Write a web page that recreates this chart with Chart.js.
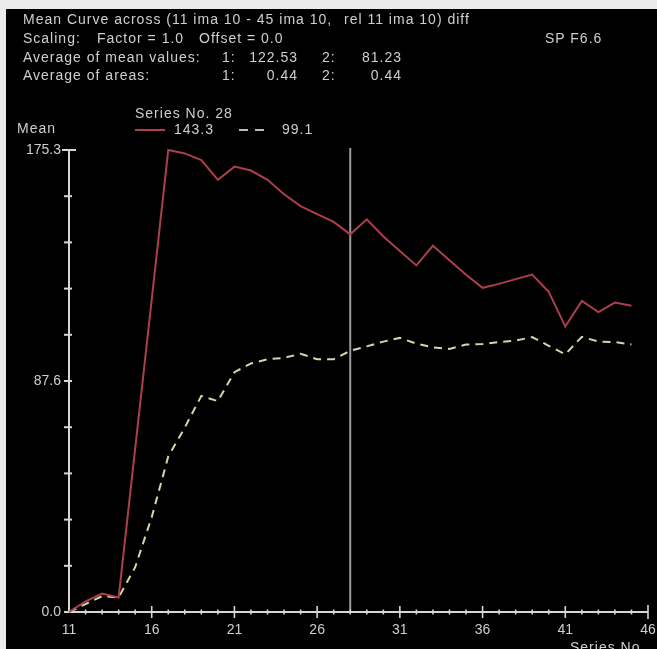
<!DOCTYPE html>
<html><head><meta charset="utf-8">
<script src="https://cdn.jsdelivr.net/npm/chart.js@4"></script>
<style>
html,body{margin:0;padding:0;background:#e9ebea;width:657px;height:649px;overflow:hidden;}
#panel{position:absolute;left:6px;top:9px;width:651px;height:640px;background:#000;overflow:hidden;}
#c{position:absolute;left:0;top:0;}
.t{position:absolute;font-family:"Liberation Sans",Arial,sans-serif;font-size:14px;letter-spacing:1px;color:#cfcfcf;white-space:pre;line-height:16px;}
.r{text-align:right;}
.seg{position:absolute;height:0;}
</style></head>
<body>
<div id="panel">
  <canvas id="c" width="651" height="640"></canvas>
  <div class="t" style="left:17px;top:2px">Mean Curve across (11 ima 10 - 45 ima 10,</div>
  <div class="t" style="left:338px;top:2px">rel 11 ima 10) diff</div>
  <div class="t" style="left:17px;top:21px">Scaling:</div>
  <div class="t" style="left:91px;top:21px">Factor = 1.0</div>
  <div class="t" style="left:193px;top:21px">Offset = 0.0</div>
  <div class="t" style="left:539px;top:21px">SP F6.6</div>
  <div class="t" style="left:17px;top:40px">Average of mean values:</div>
  <div class="t" style="left:216px;top:40px">1:</div>
  <div class="t r" style="left:230px;top:40px;width:62px">122.53</div>
  <div class="t" style="left:316px;top:40px">2:</div>
  <div class="t r" style="left:334px;top:40px;width:62px">81.23</div>
  <div class="t" style="left:17px;top:58px">Average of areas:</div>
  <div class="t" style="left:216px;top:58px">1:</div>
  <div class="t r" style="left:230px;top:58px;width:62px">0.44</div>
  <div class="t" style="left:316px;top:58px">2:</div>
  <div class="t r" style="left:334px;top:58px;width:62px">0.44</div>

  <div class="t" id="legTitle" style="left:129px;top:96px"></div>
  <div class="t" style="left:11px;top:111px">Mean</div>
  <div class="seg" style="left:129px;top:120px;width:30px;border-top:2px solid #ad3e4c"></div>
  <div class="t" id="legV1" style="left:168px;top:112px"></div>
  <div class="seg" style="left:233px;top:120px;width:9px;border-top:2px solid #bdbdb0"></div>
  <div class="seg" style="left:249px;top:120px;width:9px;border-top:2px solid #bdbdb0"></div>
  <div class="t" id="legV2" style="left:276px;top:112px"></div>
  <div class="t" style="left:564px;top:630px">Series No.</div>
</div>
<script>
// ---- data ----
const seriesNo = [11,12,13,14,15,16,17,18,19,20,21,22,23,24,25,26,27,28,29,30,31,32,33,34,35,36,37,38,39,40,41,42,43,44,45];
const meanCurve1 = [0,4,7,5.5,62,118.5,175.3,174,171.5,164,169,167.5,164,158.5,154,151,148,143.3,149,142.5,137,131.5,139,133.5,128,123,124.5,126.3,128,121.5,108.3,118,113.8,117.4,116.2];
const meanCurve2 = [0,3,6,5.5,17,36,59,70,82,80,91,94.3,95.9,96.4,98,95.9,95.9,99.1,100.8,102.6,104,101.8,100.4,99.8,101.5,101.7,102.4,103,104.3,101,97.8,104.4,102.6,102.4,101.5];
const xMin = 11, xMax = 46, xMajorStep = 5;
const yMin = 0, yMax = 175.3;
const yTickLabels = ['0.0', '87.6', '175.3'];
const cursorSeries = 28;

// legend values at the cursor series
const ci = seriesNo.indexOf(cursorSeries);
document.getElementById('legTitle').textContent = 'Series No. ' + cursorSeries;
document.getElementById('legV1').textContent = meanCurve1[ci].toFixed(1);
document.getElementById('legV2').textContent = meanCurve2[ci].toFixed(1);

const RED = '#ad3e4c', YEL = '#d6d6a6', AXIS = '#d6d6d6', TXT = '#cfcfcf';

const axesPlugin = {
  id: 'axesPlugin',
  beforeDatasetsDraw(chart) {
    const ctx = chart.ctx, xs = chart.scales.x, ys = chart.scales.y;
    const x0 = xs.getPixelForValue(xMin), x1 = xs.getPixelForValue(xMax);
    const y0 = ys.getPixelForValue(yMin), y1 = ys.getPixelForValue(yMax);
    ctx.save();
    // cursor line
    const cx = xs.getPixelForValue(cursorSeries);
    ctx.strokeStyle = '#9c9c9c'; ctx.lineWidth = 2;
    ctx.beginPath(); ctx.moveTo(cx, y1 - 2); ctx.lineTo(cx, y0); ctx.stroke();
    // axes
    ctx.strokeStyle = AXIS; ctx.lineWidth = 2;
    ctx.beginPath(); ctx.moveTo(x0, y1); ctx.lineTo(x0, y0); ctx.lineTo(x1, y0); ctx.stroke();
    // y ticks
    ys.ticks.forEach((t, i) => {
      const y = ys.getPixelForValue(t.value);
      const top = i === ys.ticks.length - 1;
      ctx.beginPath(); ctx.moveTo(x0 - (top ? 7 : 5), y); ctx.lineTo(x0 + (top ? 7 : 3), y); ctx.stroke();
    });
    // x ticks
    ctx.lineWidth = 1.6;
    for (let v = xMin + 1; v <= xMax; v++) {
      const x = xs.getPixelForValue(v);
      const major = (v - xMin) % xMajorStep === 0;
      const h = v === xMax ? 7 : (major ? 6 : 2.5);
      ctx.beginPath(); ctx.moveTo(x, y0 - h); ctx.lineTo(x, y0 + h); ctx.stroke();
    }
    ctx.restore();
  }
};

new Chart(document.getElementById('c'), {
  type: 'line',
  data: {
    datasets: [
      { data: seriesNo.map((s, i) => ({x: s, y: meanCurve1[i]})), borderColor: RED, borderWidth: 2, pointRadius: 0, tension: 0, clip: false },
      { data: seriesNo.map((s, i) => ({x: s, y: meanCurve2[i]})), borderColor: YEL, borderWidth: 2, borderDash: [8, 6], pointRadius: 0, tension: 0, clip: false }
    ]
  },
  options: {
    responsive: false, animation: false, events: [],
    layout: { padding: { top: 141, right: 9, left: 0, bottom: 0 } },
    plugins: { legend: { display: false }, tooltip: { enabled: false }, title: { display: false } },
    scales: {
      x: {
        type: 'linear', min: xMin, max: xMax,
        grid: { display: false, drawTicks: false }, border: { display: false },
        ticks: { stepSize: xMajorStep, autoSkip: false, maxRotation: 0, padding: 10, color: TXT,
                 font: { family: '"Liberation Sans", Arial, sans-serif', size: 14 },
                 callback: v => String(v) },
        afterFit: s => { s.height = 37; s.paddingLeft = 0; s.paddingRight = 0; }
      },
      y: {
        min: yMin, max: yMax,
        grid: { display: false, drawTicks: false }, border: { display: false },
        ticks: { stepSize: (yMax - yMin) / 10, autoSkip: false, padding: 8, color: TXT,
                 font: { family: '"Liberation Sans", Arial, sans-serif', size: 14 },
                 callback: (v, i) => (i % 5 === 0 ? yTickLabels[i / 5] : '') },
        afterFit: s => { s.width = 63; s.paddingTop = 0; s.paddingBottom = 0; }
      }
    }
  },
  plugins: [axesPlugin]
});
</script>
</body></html>
